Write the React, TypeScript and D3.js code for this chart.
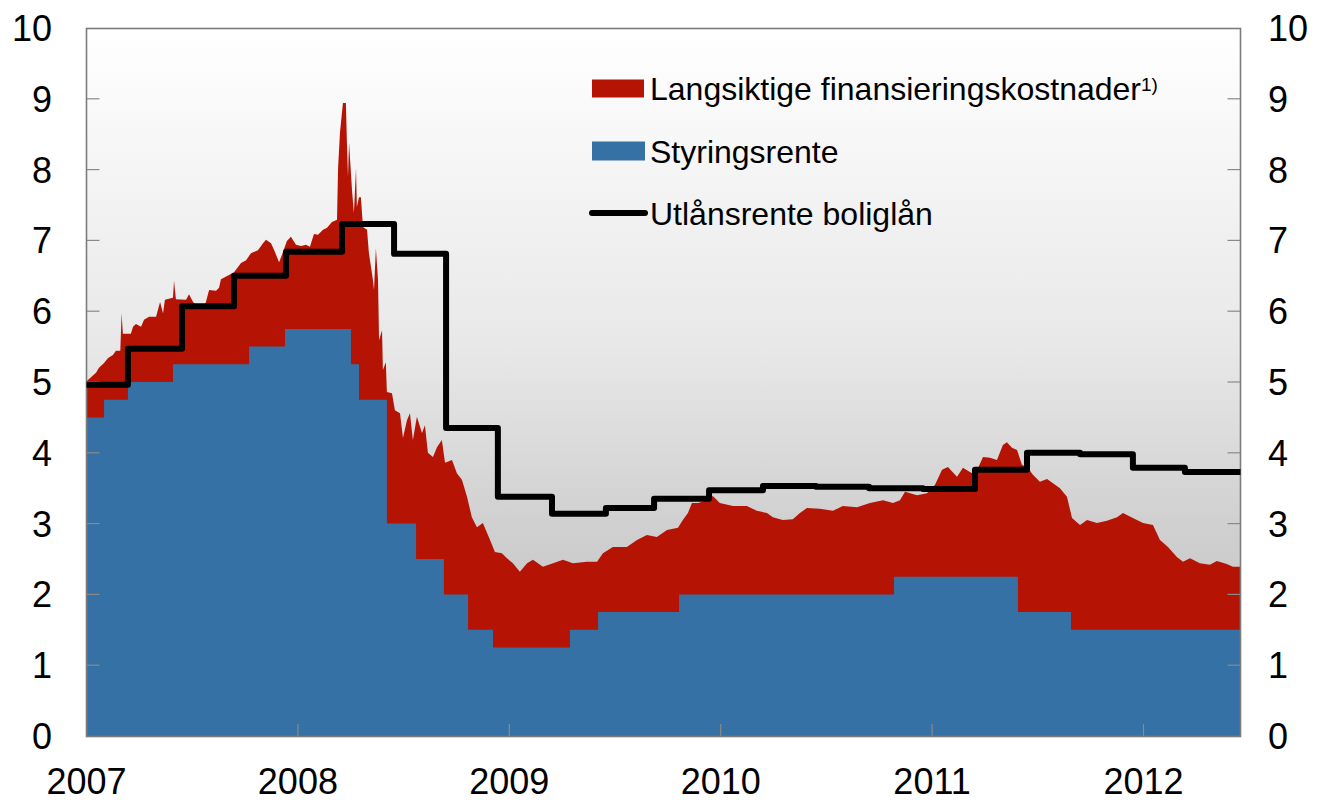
import React, { useEffect, useRef } from 'react';
import * as d3 from 'd3';

const yearTicks = [2007, 2008, 2009, 2010, 2011, 2012];
const valueTicks = [0, 1, 2, 3, 4, 5, 6, 7, 8, 9, 10];
const legendLabels = ['Langsiktige finansieringskostnader', 'Styringsrente', 'Utlånsrente boliglån'];

// [year, percent] - top of the red area (policy rate + long term funding spread)
const fundingTotal: [number, number][] = [
  [2007.0, 5.01], [2007.045, 5.13], [2007.059, 5.2], [2007.083, 5.27], [2007.102, 5.34],
  [2007.125, 5.38], [2007.139, 5.44], [2007.16, 5.44], [2007.166, 5.97], [2007.172, 5.68],
  [2007.21, 5.68], [2007.22, 5.78], [2007.234, 5.82], [2007.258, 5.78], [2007.272, 5.88],
  [2007.296, 5.92], [2007.329, 5.92], [2007.348, 6.13], [2007.362, 5.97], [2007.371, 6.16],
  [2007.409, 6.19], [2007.414, 6.43], [2007.423, 6.17], [2007.471, 6.16], [2007.485, 6.24],
  [2007.504, 6.13], [2007.532, 6.05], [2007.556, 6.03], [2007.58, 6.3], [2007.613, 6.29],
  [2007.627, 6.33], [2007.636, 6.45], [2007.674, 6.51], [2007.698, 6.55], [2007.731, 6.68],
  [2007.755, 6.72], [2007.778, 6.82], [2007.811, 6.86], [2007.835, 6.96], [2007.849, 7.01],
  [2007.873, 6.96], [2007.891, 6.84], [2007.911, 6.69], [2007.93, 6.84], [2007.948, 6.99],
  [2007.967, 7.05], [2007.991, 6.94], [2008.015, 6.92], [2008.038, 6.94], [2008.057, 6.91],
  [2008.076, 7.09], [2008.095, 7.08], [2008.119, 7.15], [2008.138, 7.18], [2008.161, 7.26],
  [2008.185, 7.29], [2008.19, 8.02], [2008.199, 8.52], [2008.213, 8.94], [2008.227, 8.94],
  [2008.232, 8.38], [2008.237, 7.9], [2008.242, 8.38], [2008.256, 7.71], [2008.265, 7.39],
  [2008.275, 8.02], [2008.279, 7.47], [2008.289, 7.61], [2008.298, 7.61], [2008.308, 7.19],
  [2008.327, 7.15], [2008.336, 6.82], [2008.346, 6.62], [2008.355, 6.44], [2008.36, 6.3],
  [2008.369, 6.89], [2008.379, 6.44], [2008.384, 5.59], [2008.398, 5.73], [2008.402, 5.17],
  [2008.416, 5.28], [2008.421, 4.86], [2008.445, 4.84], [2008.459, 4.6], [2008.483, 4.56],
  [2008.497, 4.21], [2008.516, 4.46], [2008.53, 4.56], [2008.544, 4.18], [2008.563, 4.51],
  [2008.587, 4.28], [2008.601, 4.39], [2008.615, 4.0], [2008.639, 3.94], [2008.658, 4.08],
  [2008.681, 4.18], [2008.696, 3.86], [2008.729, 3.9], [2008.752, 3.71], [2008.776, 3.62],
  [2008.8, 3.38], [2008.823, 3.09], [2008.847, 2.95], [2008.875, 3.01], [2008.909, 2.77],
  [2008.932, 2.6], [2008.965, 2.58], [2008.989, 2.51], [2009.017, 2.44], [2009.05, 2.32],
  [2009.084, 2.44], [2009.112, 2.49], [2009.159, 2.39], [2009.207, 2.44], [2009.254, 2.49],
  [2009.301, 2.44], [2009.367, 2.46], [2009.415, 2.46], [2009.443, 2.58], [2009.49, 2.67],
  [2009.556, 2.67], [2009.604, 2.77], [2009.651, 2.84], [2009.698, 2.81], [2009.746, 2.91],
  [2009.798, 2.94], [2009.821, 3.05], [2009.845, 3.15], [2009.864, 3.29], [2009.893, 3.29],
  [2009.935, 3.33], [2009.963, 3.39], [2009.996, 3.29], [2010.058, 3.25], [2010.124, 3.25],
  [2010.171, 3.18], [2010.219, 3.15], [2010.247, 3.09], [2010.294, 3.05], [2010.341, 3.06],
  [2010.375, 3.15], [2010.408, 3.22], [2010.469, 3.21], [2010.531, 3.18], [2010.578, 3.25],
  [2010.645, 3.23], [2010.706, 3.29], [2010.768, 3.33], [2010.815, 3.29], [2010.848, 3.33],
  [2010.872, 3.45], [2010.896, 3.43], [2010.929, 3.4], [2010.976, 3.43], [2011.014, 3.55],
  [2011.047, 3.76], [2011.075, 3.8], [2011.118, 3.66], [2011.146, 3.79], [2011.179, 3.73],
  [2011.203, 3.69], [2011.241, 3.94], [2011.274, 3.93], [2011.307, 3.9], [2011.335, 4.11],
  [2011.354, 4.15], [2011.378, 4.07], [2011.402, 4.04], [2011.425, 3.83], [2011.453, 3.79],
  [2011.477, 3.69], [2011.51, 3.59], [2011.544, 3.63], [2011.572, 3.57], [2011.605, 3.5],
  [2011.638, 3.38], [2011.662, 3.08], [2011.7, 2.98], [2011.733, 3.05], [2011.78, 3.01],
  [2011.827, 3.04], [2011.875, 3.09], [2011.903, 3.15], [2011.95, 3.08], [2011.998, 3.01],
  [2012.045, 2.98], [2012.078, 2.77], [2012.116, 2.67], [2012.158, 2.53], [2012.187, 2.46],
  [2012.22, 2.51], [2012.267, 2.44], [2012.314, 2.42], [2012.347, 2.47], [2012.394, 2.43],
  [2012.423, 2.39], [2012.459, 2.39],
];

// [year, percent] - step changes in the policy rate
const policyRate: [number, number][] = [
  [2007.0, 4.5], [2007.083, 4.75], [2007.196, 5.0], [2007.409, 5.25], [2007.769, 5.5],
  [2007.939, 5.75], [2008.251, 5.25], [2008.289, 4.75], [2008.421, 3.0], [2008.559, 2.5],
  [2008.691, 2.0], [2008.805, 1.5], [2008.923, 1.25], [2009.287, 1.5], [2009.42, 1.75],
  [2009.803, 2.0], [2010.82, 2.25], [2011.406, 1.75], [2011.657, 1.5], [2012.459, 1.5],
];

// [year, percent] - mortgage lending rate, quarterly
const mortgageRate: [number, number][] = [
  [2007.0, 4.96], [2007.196, 5.47], [2007.452, 6.07], [2007.698, 6.5], [2007.944, 6.84],
  [2008.209, 7.23], [2008.455, 6.81], [2008.701, 4.35], [2008.946, 3.38], [2009.202, 3.14],
  [2009.457, 3.22], [2009.685, 3.35], [2009.945, 3.47], [2010.2, 3.53], [2010.451, 3.52],
  [2010.702, 3.5], [2010.957, 3.49], [2011.203, 3.76], [2011.449, 4.0], [2011.7, 3.98],
  [2011.95, 3.79], [2012.196, 3.73], [2012.459, 3.73],
];

const red = '#b51405';
const blue = '#3571a4';
const font = '"Liberation Sans", Arial, sans-serif';

export default function App() {
  const svgRef = useRef<SVGSVGElement>(null);

  useEffect(() => {
    const svg = d3.select(svgRef.current);
    svg.selectAll('*').remove();

    const left = 86.5, right = 1240.5, top = 28, bottom = 736;
    const x = d3.scaleLinear().domain([2007, 2012.459]).range([left, right]);
    const y = d3.scaleLinear().domain([0, 10]).range([bottom, top]);

    const grad = svg.append('defs').append('linearGradient')
      .attr('id', 'bg').attr('x1', 0).attr('y1', 0).attr('x2', 0).attr('y2', 1);
    grad.append('stop').attr('offset', '0%').attr('stop-color', '#ffffff');
    grad.append('stop').attr('offset', '45%').attr('stop-color', '#e8e8e8');
    grad.append('stop').attr('offset', '70%').attr('stop-color', '#d0d0d0');
    grad.append('stop').attr('offset', '100%').attr('stop-color', '#bcbcbc');

    svg.append('rect')
      .attr('x', left).attr('y', top)
      .attr('width', right - left).attr('height', bottom - top)
      .attr('fill', 'url(#bg)');

    const redArea = d3.area<[number, number]>()
      .x(d => x(d[0]))
      .y0(y(0))
      .y1(d => y(d[1]));
    svg.append('path').datum(fundingTotal).attr('d', redArea).attr('fill', red);

    const blueArea = d3.area<[number, number]>()
      .x(d => x(d[0]))
      .y0(y(0))
      .y1(d => y(d[1]))
      .curve(d3.curveStepAfter);
    svg.append('path').datum(policyRate).attr('d', blueArea).attr('fill', blue);

    // inner ticks
    const tickColor = '#8a8a8a';
    const inner = valueTicks.filter(v => v > 0 && v < 10);
    svg.selectAll('.ltick').data(inner).join('line').attr('class', 'ltick')
      .attr('x1', left).attr('x2', left + 13)
      .attr('y1', d => y(d)).attr('y2', d => y(d))
      .attr('stroke', tickColor).attr('stroke-width', 1.2);
    svg.selectAll('.rtick').data(inner).join('line').attr('class', 'rtick')
      .attr('x1', right - 13).attr('x2', right)
      .attr('y1', d => y(d)).attr('y2', d => y(d))
      .attr('stroke', tickColor).attr('stroke-width', 1.2);
    svg.selectAll('.xtick').data(yearTicks.slice(1)).join('line').attr('class', 'xtick')
      .attr('x1', d => x(d)).attr('x2', d => x(d))
      .attr('y1', bottom).attr('y2', bottom - 12)
      .attr('stroke', tickColor).attr('stroke-width', 1.2);

    svg.append('rect')
      .attr('x', left).attr('y', top + 0.5)
      .attr('width', right - left).attr('height', bottom - top)
      .attr('fill', 'none').attr('stroke', '#7c7c7c').attr('stroke-width', 1.6);

    const rateLine = d3.line<[number, number]>()
      .x(d => x(d[0]))
      .y(d => y(d[1]))
      .curve(d3.curveStepAfter);
    svg.append('path').datum(mortgageRate).attr('d', rateLine)
      .attr('fill', 'none').attr('stroke', '#000').attr('stroke-width', 6)
      .attr('stroke-linejoin', 'round');

    // axis labels
    svg.selectAll('.ylab').data(valueTicks).join('text').attr('class', 'ylab')
      .attr('x', 52).attr('y', d => y(d)).attr('dy', '0.36em')
      .attr('text-anchor', 'end')
      .style('font-family', font).style('font-size', '36px').attr('fill', '#000')
      .text(d => d);
    svg.selectAll('.yrlab').data(valueTicks).join('text').attr('class', 'yrlab')
      .attr('x', 1268).attr('y', d => y(d)).attr('dy', '0.36em')
      .attr('text-anchor', 'start')
      .style('font-family', font).style('font-size', '36px').attr('fill', '#000')
      .text(d => d);
    svg.selectAll('.xlab').data(yearTicks).join('text').attr('class', 'xlab')
      .attr('x', d => x(d)).attr('y', 794)
      .attr('text-anchor', 'middle')
      .style('font-family', font).style('font-size', '36px').attr('fill', '#000')
      .text(d => d);

    // legend
    const legend = svg.append('g');
    const rowY = [88.5, 151, 213];
    legend.append('rect').attr('x', 592).attr('y', rowY[0] - 9).attr('width', 52).attr('height', 18).attr('fill', red);
    legend.append('rect').attr('x', 592).attr('y', rowY[1] - 9.5).attr('width', 53).attr('height', 19).attr('fill', blue);
    legend.append('line').attr('x1', 592).attr('x2', 645).attr('y1', rowY[2]).attr('y2', rowY[2])
      .attr('stroke', '#000').attr('stroke-width', 6).attr('stroke-linecap', 'round');
    legend.selectAll('text').data(legendLabels).join('text')
      .attr('x', 650).attr('y', (d, i) => rowY[i]).attr('dy', '0.36em')
      .style('font-family', font).style('font-size', '32px').attr('fill', '#000')
      .each(function (d, i) {
        const t = d3.select(this);
        t.append('tspan').text(d);
        if (i === 0) {
          t.append('tspan').attr('dy', '-0.5em').style('font-size', '19px').text('1)');
        }
      });
  }, []);

  return (
    <svg
      ref={svgRef}
      width={1321}
      height={802}
      style={{ position: 'absolute', left: 0, top: 0 }}
    ></svg>
  );
}
